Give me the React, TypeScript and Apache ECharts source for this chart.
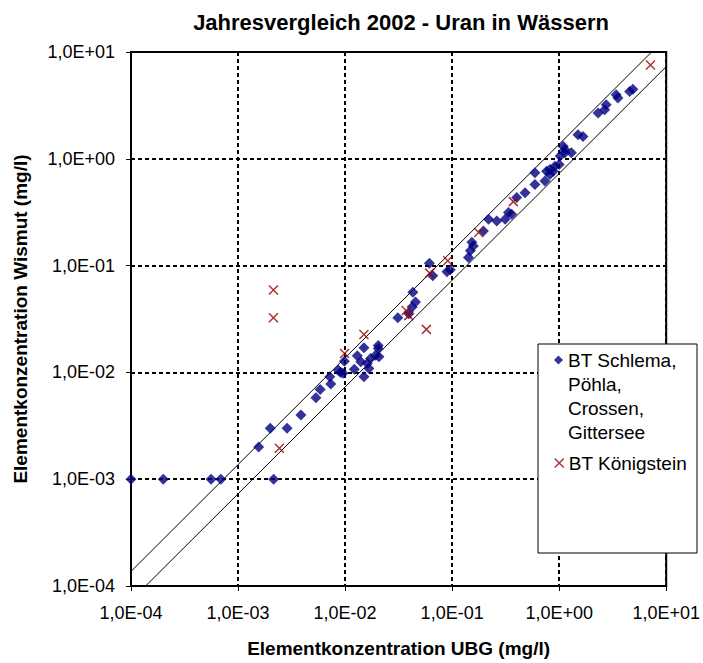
import React, { useEffect, useRef } from 'react';
import * as echarts from 'echarts';

const TITLE = 'Jahresvergleich 2002 - Uran in Wässern';
const X_NAME = 'Elementkonzentration UBG (mg/l)';
const Y_NAME = 'Elementkonzentration Wismut (mg/l)';
const TICK_LABELS = ['1,0E-04', '1,0E-03', '1,0E-02', '1,0E-01', '1,0E+00', '1,0E+01'];

const SERIES_A = 'BT Schlema,\nPöhla,\nCrossen,\nGittersee';
const SERIES_B = 'BT Königstein';

const A_X = [
  1e-4, 2e-4, 5.6e-4, 6.9e-4, 2.15e-3, 1.56e-3, 2.0e-3, 2.87e-3, 3.87e-3, 5.34e-3,
  5.85e-3, 7.36e-3, 7.2e-3, 8.67e-3, 9.57e-3, 9.85e-3, 1.22e-2, 9.1e-3, 1.3e-2, 1.5e-2,
  1.5e-2, 1.4e-2, 1.61e-2, 1.67e-2, 1.73e-2, 1.93e-2, 2.04e-2, 2.04e-2, 2.07e-2, 3.11e-2,
  4.3e-2, 4.55e-2, 4.23e-2, 3.94e-2, 6.13e-2, 6.59e-2, 8.95e-2, 9.6e-2, 0.142, 0.148,
  0.158, 0.153, 0.196, 0.219, 0.261, 0.313, 0.336, 0.36, 0.401, 0.48,
  0.594, 0.594, 0.736, 0.762, 0.819, 0.912, 1.0, 1.02, 1.09, 1.13,
  1.3, 1.5, 1.67, 2.31, 2.66, 2.75, 3.41, 3.54, 4.55, 4.88,
  0.819, 0.879, 1.13,
];
const A_Y = [
  1e-3, 1e-3, 1e-3, 1e-3, 1e-3, 2.0e-3, 3.0e-3, 3.0e-3, 4.0e-3, 5.8e-3,
  6.9e-3, 7.8e-3, 9.1e-3, 1.05e-2, 9.8e-3, 1.27e-2, 1.07e-2, 1.0e-2, 1.43e-2, 1.7e-2,
  9.1e-3, 1.26e-2, 1.21e-2, 1.09e-2, 1.35e-2, 1.45e-2, 1.67e-2, 1.79e-2, 1.4e-2, 3.25e-2,
  5.64e-2, 4.55e-2, 4.09e-2, 3.54e-2, 0.105, 8.05e-2, 8.77e-2, 9.16e-2, 0.119, 0.138,
  0.153, 0.165, 0.211, 0.272, 0.262, 0.272, 0.314, 0.303, 0.433, 0.482,
  0.576, 0.741, 0.618, 0.766, 0.795, 0.853, 0.885, 1.06, 1.31, 1.22,
  1.14, 1.68, 1.62, 2.68, 2.88, 3.2, 3.97, 3.7, 4.27, 4.49,
  0.714, 0.766, 1.14,
];

const B_X = [2.43e-3, 2.14e-3, 2.14e-3, 9.9e-3, 1.5e-2, 3.72e-2, 3.94e-2, 5.75e-2, 6.17e-2, 9.1e-2, 0.177, 0.373, 7.13];
const B_Y = [1.95e-3, 5.9e-2, 3.25e-2, 1.5e-2, 2.26e-2, 3.8e-2, 3.4e-2, 2.53e-2, 8.5e-2, 0.111, 0.204, 0.397, 7.57];

const BAND_X = [1e-4, 10];
const UPPER_FACTOR = 1.37;
const LOWER_FACTOR = 0.73;

const FONT = '"Liberation Sans", Arial, sans-serif';
const BLUE = '#000080';
const RED = '#990000';
const X_ICON = 'path://M0,0L10,10M10,0L0,10';

function tickLabel(v: number): string {
  const idx = Math.round(Math.log10(v)) + 4;
  return TICK_LABELS[idx] ?? '';
}

export default function App() {
  const ref = useRef<HTMLDivElement>(null);

  useEffect(() => {
    document.body.style.margin = '0';
    const chart = echarts.init(ref.current!, null, { renderer: 'svg' });
    const zip = (xs: number[], ys: number[]) => xs.map((x, i) => [x, ys[i]]);

    const axisCommon = {
      type: 'log' as const,
      logBase: 10,
      min: 1e-4,
      max: 10,
      interval: 1,
      nameLocation: 'middle' as const,
      nameTextStyle: { fontFamily: FONT, fontSize: 19, fontWeight: 'bold' as const, color: '#000' },
      axisLine: { show: true, lineStyle: { color: '#000', width: 2 } },
      axisTick: { show: true, inside: false, length: 5, lineStyle: { color: '#000', width: 1 } },
      minorTick: { show: false },
      splitLine: { show: true, lineStyle: { color: '#000', width: 2, type: [4, 3] as any } },
      axisLabel: { fontFamily: FONT, fontSize: 18, color: '#000', formatter: tickLabel },
    };

    const legendText = { fontFamily: FONT, fontSize: 19, lineHeight: 24, color: '#000' };

    chart.setOption({
      animation: false,
      backgroundColor: '#fff',
      title: {
        text: TITLE,
        left: 396,
        top: 6,
        textAlign: 'center',
        textStyle: { fontFamily: FONT, fontSize: 22, fontWeight: 'bold', color: '#000' },
      },
      grid: {
        left: 131,
        top: 52,
        right: 35,
        bottom: 74,
        show: true,
        borderColor: '#000',
        borderWidth: 2,
        backgroundColor: '#fff',
      },
      xAxis: {
        ...axisCommon,
        name: X_NAME,
        nameGap: 53,
        axisLabel: { ...axisCommon.axisLabel, margin: 18 },
      },
      yAxis: {
        ...axisCommon,
        name: Y_NAME,
        nameGap: 101,
        axisLabel: { ...axisCommon.axisLabel, margin: 16 },
      },
      legend: [
        {
          data: [{ name: SERIES_A, icon: 'diamond', itemStyle: { color: BLUE } }],
          formatter: (name: string) => '\n\n\n' + name,
          left: 554,
          top: 276,
          padding: 0,
          itemWidth: 9,
          itemHeight: 9,
          selectedMode: false,
          textStyle: legendText,
        },
        {
          data: [{ name: SERIES_B, icon: X_ICON, itemStyle: { color: RED, borderColor: RED, borderWidth: 1.5 } }],
          left: 554,
          top: 451,
          padding: 0,
          itemWidth: 9,
          itemHeight: 9,
          selectedMode: false,
          textStyle: legendText,
        },
      ],
      graphic: [
        {
          type: 'rect',
          z: 3,
          shape: { x: 538, y: 344, width: 159, height: 209 },
          style: { fill: '#fff', stroke: '#000', lineWidth: 1 },
        },
      ],
      series: [
        {
          name: 'upper',
          type: 'line',
          data: BAND_X.map((x) => [x, x * UPPER_FACTOR]),
          symbol: 'none',
          silent: true,
          clip: true,
          lineStyle: { color: '#000', width: 1 },
          z: 1,
        },
        {
          name: 'lower',
          type: 'line',
          data: BAND_X.map((x) => [x, x * LOWER_FACTOR]),
          symbol: 'none',
          silent: true,
          clip: true,
          lineStyle: { color: '#000', width: 1 },
          z: 1,
        },
        {
          name: SERIES_A,
          type: 'scatter',
          data: zip(A_X, A_Y),
          symbol: 'diamond',
          symbolSize: 11,
          itemStyle: { color: BLUE },
          z: 2,
        },
        {
          name: SERIES_B,
          type: 'scatter',
          data: zip(B_X, B_Y),
          symbol: X_ICON,
          symbolSize: 9,
          itemStyle: { color: RED, borderColor: RED, borderWidth: 1.5 },
          z: 3,
        },
      ],
    });

    return () => chart.dispose();
  }, []);

  return (
    <div
      ref={ref}
      style={{ position: 'fixed', left: 0, top: 0, width: 703, height: 663 }}
    />
  );
}
